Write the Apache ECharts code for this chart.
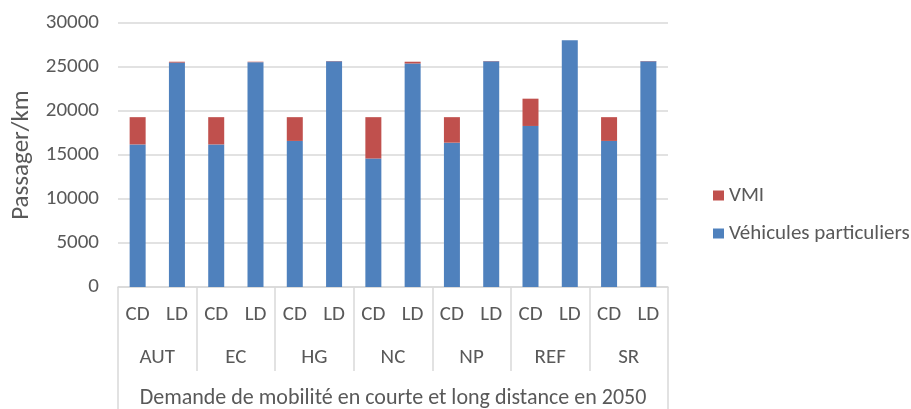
<!DOCTYPE html>
<html><head><meta charset="utf-8">
<script src="https://cdn.jsdelivr.net/npm/echarts@6/dist/echarts.min.js"></script>
<style>html,body{margin:0;padding:0;background:#fff}#c{width:911px;height:409px}</style>
</head><body><div id="c"></div>
<script>
const subCats = ['CD','LD','CD','LD','CD','LD','CD','LD','CD','LD','CD','LD','CD','LD'];
const groups = ['AUT','EC','HG','NC','NP','REF','SR'];
const axisTitle = 'Demande de mobilité en courte et long distance en 2050';
const vehicules = [16200,25500,16200,25550,16600,25650,14600,25400,16400,25650,18300,28050,16600,25650];
const vmi = [3100,100,3100,50,2700,30,4700,200,2900,30,3100,0,2700,30];
const yTicks = {min:0, max:30000, interval:5000};

const txt = '#595959', gridC = '#D9D9D9';
const font = 'Carlito, "Open Sans", "Noto Sans", sans-serif';
const chart = echarts.init(document.getElementById('c'));
chart.setOption({
  animation:false,
  textStyle:{fontFamily:font},
  grid:{left:118,right:243,top:23,bottom:122},
  legend:{orient:'vertical',left:708,top:180,itemGap:17,itemWidth:11,itemHeight:10,
    icon:'rect',data:['VMI','Véhicules particuliers'],
    textStyle:{color:txt,fontSize:21,fontFamily:font}},
  xAxis:[
    {type:'category',data:subCats,position:'bottom',
     axisLine:{show:true,lineStyle:{color:gridC,width:1.5}},axisTick:{show:false},
     axisLabel:{color:txt,fontSize:21,margin:17,interval:0,fontFamily:font}},
    {type:'category',data:groups,position:'bottom',
     axisLine:{show:false},axisTick:{show:true,length:84,lineStyle:{color:gridC,width:1.5}},
     axisLabel:{color:txt,fontSize:21,margin:60,interval:0,fontFamily:font}},
    {type:'category',data:[axisTitle],position:'bottom',
     axisLine:{show:false},axisTick:{show:true,length:125,lineStyle:{color:gridC,width:1.5}},
     axisLabel:{color:txt,fontSize:22,margin:100,interval:0,fontFamily:font}}
  ],
  yAxis:{type:'value',min:yTicks.min,max:yTicks.max,interval:yTicks.interval,
    name:'Passager/km',nameLocation:'middle',nameGap:84,
    nameTextStyle:{color:txt,fontSize:25,fontFamily:font},
    axisLine:{show:false},axisTick:{show:false},
    axisLabel:{color:txt,fontSize:21,margin:19,fontFamily:font,formatter:v=>String(v)},
    splitLine:{lineStyle:{color:gridC,width:1.5}}},
  series:[
    {name:'Véhicules particuliers',type:'bar',stack:'t',data:vehicules,barWidth:16,
     itemStyle:{color:'#4F81BD'}},
    {name:'VMI',type:'bar',stack:'t',data:vmi,barWidth:16,
     itemStyle:{color:'#C0504D'}}
  ]
});
</script></body></html>
